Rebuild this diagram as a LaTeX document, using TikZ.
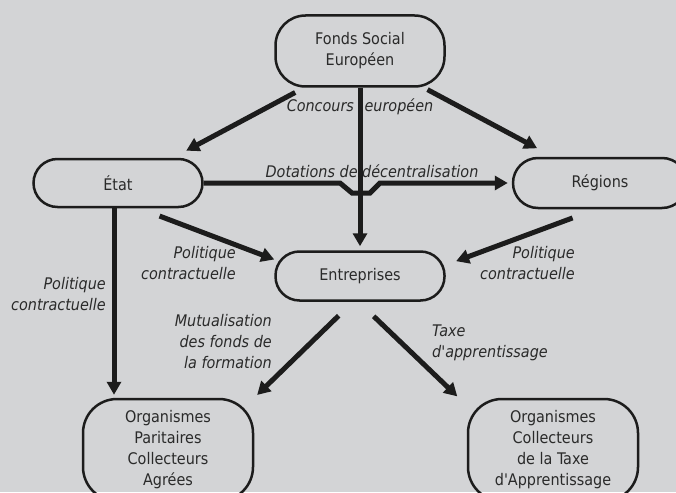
\documentclass[tikz,border=0pt]{standalone}
\usepackage{fontspec}
\IfFontExistsTF{DejaVu Sans Condensed}{\setmainfont{DejaVu Sans Condensed}}{\setmainfont{DejaVu Sans}[FakeStretch=0.9]}
\usetikzlibrary{arrows.meta,calc}
\definecolor{bggrey}{HTML}{D3D4D6}
\definecolor{inkcolor}{HTML}{1C1C1C}
\definecolor{labelcolor}{HTML}{2A2A2A}
\tikzset{
  box/.style={draw=inkcolor, line width=2.5pt, rectangle, rounded corners=24pt, minimum width=169pt, minimum height=49pt, align=center, text=labelcolor, font=\fontsize{16}{21}\selectfont, inner sep=0pt},
  flow/.style={draw=inkcolor, line width=5pt, -{Triangle[length=13pt,width=14pt]}},
  lbl/.style={text=labelcolor, font=\fontsize{16}{21}\selectfont\itshape, inner sep=0pt}
}

\begin{document}
\begin{tikzpicture}[x=1pt, y=-1pt]
    \useasboundingbox (0,0) rectangle (676,492);
    \clip (0,0) rectangle (676,492);
    \fill[bggrey] (0,0) rectangle (676,492);

    % Financeurs
    \node[box, minimum height=71pt, rounded corners=30pt] (fse) at (360,51) {Fonds Social\\Européen};
    \node[box, minimum height=48pt] (etat) at (118,183) {État};
    \node[box, minimum width=174pt, minimum height=50pt, rounded corners=25pt] (regions) at (600,183) {Régions};
    \node[box] (entr) at (360,276) {Entreprises};

    % Organismes collecteurs
    \node[box, minimum width=170pt, minimum height=102pt, rounded corners=34pt] (opca) at (168,450) {Organismes\\Paritaires\\Collecteurs\\Agrées};
    \node[box, minimum width=170pt, minimum height=102pt, rounded corners=34pt] (octa) at (553,450) {Organismes\\Collecteurs\\de la Taxe\\d\textquotesingle Apprentissage};

    % Libelles des flux
    \node[lbl] (concours) at (360,107) {Concours\hspace{6pt} européen};
    \node[lbl] (dotations) at (372,171) {Dotations de décentralisation};
    \node[lbl, align=right, anchor=east] (polg) at (106,294) {Politique\\contractuelle};
    \node[lbl, align=right, anchor=east] (polm) at (236,263) {Politique\\contractuelle};
    \node[lbl, align=right, anchor=east] (pold) at (575,263) {Politique\\contractuelle};
    \node[lbl, align=right, anchor=east] (mutual) at (272,342) {Mutualisation\\des fonds de\\la formation};
    \node[lbl, align=left, anchor=west] (taxe) at (432,343) {Taxe\\d\textquotesingle apprentissage};

    % Dotations, passe sous le flux vertical
    \coordinate (dip) at (360,193);
    \draw[flow, shorten >=4pt] (etat.east) -- ($(dip)+(-20,-10)$) -- ($(dip)+(-8,0)$) -- ($(dip)+(10,0)$) -- ($(dip)+(20,-10)$) -- (regions.west);

    % Fonds Social Europeen
    \draw[flow, shorten <=10pt, shorten >=15pt] ([xshift=-56pt]fse.south) -- ([xshift=55pt]etat.north);
    \draw[flow, shorten <=4pt, shorten >=18pt] ([xshift=64pt]fse.south) -- ([xshift=-47pt]regions.north);
    \draw[flow, shorten >=4pt] (fse) -- (entr);

    % Etat et Regions
    \draw[flow, shorten <=22pt] ([xshift=21pt]etat.south) -- ([yshift=16.5pt]entr.west);
    \draw[flow, shorten >=3pt] ([xshift=-4pt]etat.south) -- ([xshift=-54pt]opca.north);
    \draw[flow, shorten <=25pt, shorten >=11pt] ([xshift=-4pt]regions.south) -- ([yshift=11pt]entr.east);

    % Entreprises
    \draw[flow, shorten <=20pt, shorten >=4pt] ([xshift=-7pt]entr.south) -- (opca.north east);
    \draw[flow, shorten <=21pt, shorten >=2pt] ([xshift=-1.5pt]entr.south) -- ([xshift=-8pt]octa.north west);
\end{tikzpicture}
\end{document}
